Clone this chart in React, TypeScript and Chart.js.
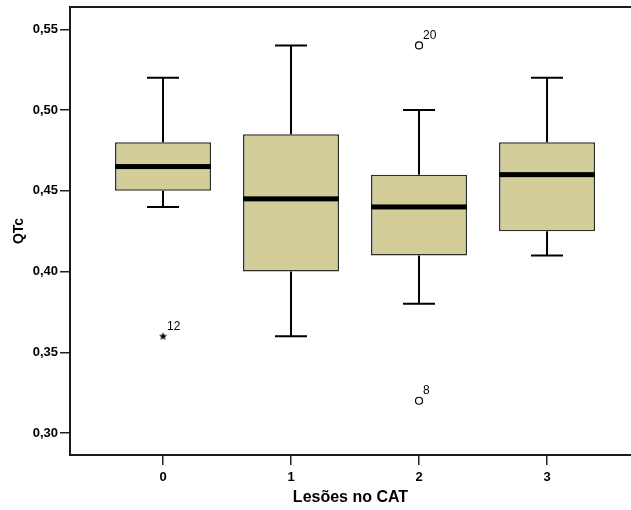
import React, { useEffect, useRef } from 'react';
import { Chart, registerables } from 'chart.js';

Chart.register(...registerables);

// Groups on the horizontal axis
const categories = ['0', '1', '2', '3'];

// Five-number summaries of QTc per group
const lowerWhisker = [0.44, 0.36, 0.38, 0.41];
const lowerQuartile = [0.45, 0.40, 0.41, 0.425];
const medians = [0.465, 0.445, 0.44, 0.46];
const upperQuartile = [0.48, 0.485, 0.46, 0.48];
const upperWhisker = [0.52, 0.54, 0.50, 0.52];

// Outliers (circles) and extremes (stars) with their case numbers
const outlierGroup = [2, 2];
const outlierValues = [0.54, 0.32];
const outlierCases = ['20', '8'];

const extremeGroup = [0];
const extremeValues = [0.36];
const extremeCases = ['12'];

const yTicks = [0.30, 0.35, 0.40, 0.45, 0.50, 0.55];

const FONT = '"Liberation Sans", Arial, sans-serif';
const BOX_FILL = '#d3ce99';
const BOX_EDGE = '#2e2e2e';

function makeStar(): HTMLCanvasElement {
  const c = document.createElement('canvas');
  c.width = 9;
  c.height = 9;
  const g = c.getContext('2d')!;
  g.fillStyle = '#000';
  g.beginPath();
  for (let k = 0; k < 10; k++) {
    const r = k % 2 === 0 ? 4.3 : 1.8;
    const a = -Math.PI / 2 + (k * Math.PI) / 5;
    const px = 4.5 + r * Math.cos(a);
    const py = 4.8 + r * Math.sin(a);
    if (k === 0) g.moveTo(px, py);
    else g.lineTo(px, py);
  }
  g.closePath();
  g.fill();
  return c;
}

const boxParts = {
  id: 'boxParts',
  beforeDatasetsDraw(chart: any) {
    const { ctx, scales } = chart;
    const x = scales.x;
    const y = scales.y;
    ctx.save();
    ctx.strokeStyle = '#000';
    ctx.lineWidth = 2;
    categories.forEach((_, i) => {
      const cx = x.getPixelForValue(i);
      const half = x.getPixelForValue(i + 0.125) - cx;
      const top = y.getPixelForValue(upperWhisker[i]);
      const q3 = y.getPixelForValue(upperQuartile[i]);
      const q1 = y.getPixelForValue(lowerQuartile[i]);
      const bot = y.getPixelForValue(lowerWhisker[i]);
      ctx.beginPath();
      ctx.moveTo(cx, q3);
      ctx.lineTo(cx, top);
      ctx.moveTo(cx - half, top);
      ctx.lineTo(cx + half, top);
      ctx.moveTo(cx, q1);
      ctx.lineTo(cx, bot);
      ctx.moveTo(cx - half, bot);
      ctx.lineTo(cx + half, bot);
      ctx.stroke();
    });
    ctx.restore();
  },
  afterDatasetsDraw(chart: any) {
    const { ctx, scales, chartArea } = chart;
    const x = scales.x;
    const y = scales.y;
    ctx.save();
    // median bars across each box
    const meta = chart.getDatasetMeta(0);
    meta.data.forEach((bar: any, i: number) => {
      const { x: bx, width } = bar.getProps(['x', 'width'], true);
      const my = y.getPixelForValue(medians[i]);
      ctx.fillStyle = '#000';
      ctx.fillRect(bx - width / 2, my - 2.5, width, 5);
    });
    // case labels next to outliers and extremes
    ctx.fillStyle = '#000';
    ctx.font = `12px ${FONT}`;
    ctx.textAlign = 'left';
    ctx.textBaseline = 'middle';
    outlierGroup.forEach((g, i) => {
      ctx.fillText(outlierCases[i], x.getPixelForValue(g) + 4, y.getPixelForValue(outlierValues[i]) - 10);
    });
    extremeGroup.forEach((g, i) => {
      ctx.fillText(extremeCases[i], x.getPixelForValue(g) + 4, y.getPixelForValue(extremeValues[i]) - 9);
    });
    // top frame line
    ctx.strokeStyle = '#1a1a1a';
    ctx.lineWidth = 2;
    ctx.beginPath();
    ctx.moveTo(chartArea.left, chartArea.top);
    ctx.lineTo(chart.width, chartArea.top);
    ctx.stroke();
    ctx.restore();
  },
};

export default function App() {
  const ref = useRef<HTMLCanvasElement | null>(null);

  useEffect(() => {
    const canvas = ref.current;
    if (!canvas) return;
    const star = makeStar();
    const chart = new Chart(canvas, {
      type: 'bar',
      data: {
        datasets: [
          {
            type: 'bar',
            data: categories.map((_, i) => ({ x: i, y: [lowerQuartile[i], upperQuartile[i]] })) as any,
            backgroundColor: BOX_FILL,
            borderColor: BOX_EDGE,
            borderWidth: 1.5,
            borderSkipped: false,
            barPercentage: 0.75,
            categoryPercentage: 1,
          } as any,
          {
            type: 'scatter',
            data: outlierGroup.map((g, i) => ({ x: g, y: outlierValues[i] })),
            pointStyle: 'circle',
            pointRadius: 3.5,
            pointBackgroundColor: '#fff',
            pointBorderColor: '#000',
            pointBorderWidth: 1.2,
          } as any,
          {
            type: 'scatter',
            data: extremeGroup.map((g, i) => ({ x: g, y: extremeValues[i] })),
            pointStyle: star,
            pointRadius: 4.5,
          } as any,
        ],
      },
      plugins: [boxParts],
      options: {
        responsive: false,
        animation: false,
        devicePixelRatio: 1,
        layout: { autoPadding: false, padding: { left: 0, right: 0, top: 7, bottom: 0 } },
        plugins: { legend: { display: false }, tooltip: { enabled: false } },
        scales: {
          x: {
            type: 'linear',
            offset: false,
            min: -0.7266,
            max: 3.656,
            afterBuildTicks: (scale: any) => {
              scale.ticks = categories.map((_, i) => ({ value: i }));
            },
            afterFit: (scale: any) => {
              scale.height = 55;
              scale.paddingLeft = 0;
              scale.paddingRight = 0;
            },
            ticks: {
              callback: (v: any) => categories[Number(v)] ?? '',
              color: '#000',
              font: { family: FONT, size: 13, weight: 'bold' },
              padding: 5,
              maxRotation: 0,
            },
            grid: {
              offset: false,
              drawOnChartArea: false,
              drawTicks: true,
              tickLength: 10,
              color: '#222',
              lineWidth: 1.5,
            },
            border: { display: true, color: '#1a1a1a', width: 2 },
            title: {
              display: true,
              text: 'Lesões no CAT',
              color: '#000',
              font: { family: FONT, size: 16, weight: 'bold' },
              padding: { top: 0, bottom: 3 },
            },
          },
          y: {
            type: 'linear',
            min: 0.2864,
            max: 0.5638,
            afterBuildTicks: (scale: any) => {
              scale.ticks = yTicks.map((v) => ({ value: v }));
            },
            afterFit: (scale: any) => {
              scale.width = 70;
              scale.paddingTop = 0;
              scale.paddingBottom = 0;
            },
            ticks: {
              callback: (v: any) => Number(v).toFixed(2).replace('.', ','),
              color: '#000',
              font: { family: FONT, size: 13, weight: 'bold' },
              padding: 2,
            },
            grid: {
              drawOnChartArea: false,
              drawTicks: true,
              tickLength: 10,
              color: '#222',
              lineWidth: 1.5,
            },
            border: { display: true, color: '#1a1a1a', width: 2 },
            title: {
              display: true,
              text: 'QTc',
              color: '#000',
              font: { family: FONT, size: 14, weight: 'bold' },
              padding: { top: 11, bottom: 0 },
            },
          },
        },
      } as any,
    });
    return () => chart.destroy();
  }, []);

  return (
    <div style={{ position: 'fixed', left: 0, top: 0, width: 631, height: 510, background: '#fff', overflow: 'hidden' }}>
      <canvas ref={ref} width={631} height={510} style={{ display: 'block' }} />
    </div>
  );
}
